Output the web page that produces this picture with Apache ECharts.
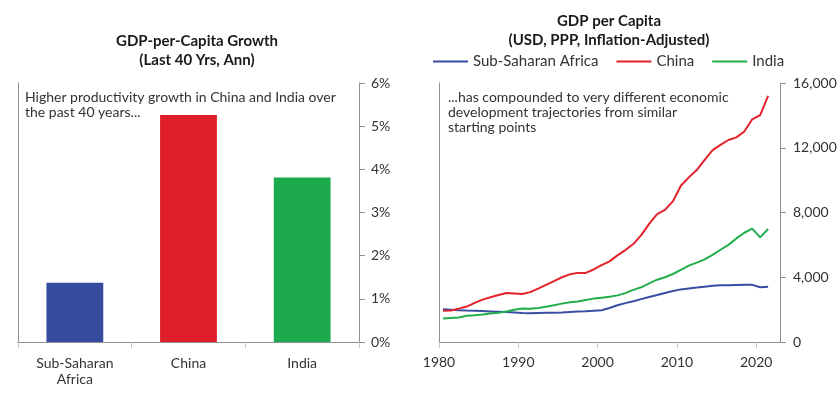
<!DOCTYPE html>
<html><head><meta charset="utf-8">
<script src="https://cdn.jsdelivr.net/npm/echarts@6/dist/echarts.min.js"></script>
<style>html,body{margin:0;padding:0;background:#fff}#c{width:840px;height:397px}</style>
</head><body><div id="c"></div>
<script>
// ---- Left panel data ----
const barCategories = ['Sub-Saharan\nAfrica', 'China', 'India'];
const barValues = [1.37, 5.26, 3.81];
const barColors = ['#374C9F', '#DE1F27', '#1DAA4C'];
const pctTicks = [0, 1, 2, 3, 4, 5, 6];

// ---- Right panel data ----
const years = [1980,1981,1982,1983,1984,1985,1986,1987,1988,1989,
               1990,1991,1992,1993,1994,1995,1996,1997,1998,1999,
               2000,2001,2002,2003,2004,2005,2006,2007,2008,2009,
               2010,2011,2012,2013,2014,2015,2016,2017,2018,2019,
               2020,2021];
const ssa = [2020,1990,1960,1940,1930,1910,1890,1870,1850,1820,
             1790,1780,1790,1800,1810,1830,1860,1880,1900,1930,
             1960,2100,2270,2400,2520,2650,2780,2900,3030,3150,
             3250,3310,3360,3420,3470,3510,3510,3520,3530,3530,
             3380,3420];
const china = [1930,1940,2060,2190,2420,2620,2760,2900,3030,3000,
               2970,3080,3300,3530,3760,4000,4180,4270,4270,4480,
               4750,4980,5350,5680,6050,6600,7300,7900,8160,8700,
               9650,10170,10620,11250,11850,12180,12480,12640,13000,13760,
               14020,15200];
const india = [1450,1490,1510,1620,1650,1700,1760,1800,1880,1990,
               2070,2050,2100,2180,2270,2370,2460,2500,2600,2680,
               2740,2800,2880,3020,3220,3380,3620,3850,4000,4200,
               4450,4720,4900,5100,5380,5700,6000,6400,6750,7000,
               6460,6980];
const yearTicks = [1980, 1990, 2000, 2010, 2020];
const gdpTicks = [0, 4000, 8000, 12000, 16000];
const seriesNames = ['Sub-Saharan Africa', 'China', 'India'];
const lineColors = ['#3A4DA3', '#E3232B', '#22AE4B'];

const FONT = 'Lato, "Open Sans", sans-serif';
const TXT = '#333333';
const DARK_AX = '#8f8f8f';
const LIGHT_AX = '#c8c8c8';

// plotted at mid-year
const toPts = arr => years.map((y, i) => [y + 0.5, arr[i]]);

const chart = echarts.init(document.getElementById('c'), null, {renderer: 'canvas'});
const borderAxis = (extra) => Object.assign({
  show: true, silent: true,
  axisLine: {show: true, lineStyle: {color: DARK_AX, width: 1}},
  axisTick: {show: false}, axisLabel: {show: false}, splitLine: {show: false}
}, extra);

chart.setOption({
  animation: false,
  textStyle: {fontFamily: FONT},
  title: [
    {text: 'GDP-per-Capita Growth\n(Last 40 Yrs, Ann)', left: 197, top: 32, padding: 0,
     textAlign: 'center', textVerticalAlign: 'top',
     textStyle: {fontFamily: FONT, fontSize: 15, fontWeight: 'bold', color: '#1a1a1a', lineHeight: 19}},
    {text: 'GDP per Capita\n(USD, PPP, Inflation-Adjusted)', left: 609, top: 12, padding: 0,
     textAlign: 'center', textVerticalAlign: 'top',
     textStyle: {fontFamily: FONT, fontSize: 15, fontWeight: 'bold', color: '#1a1a1a', lineHeight: 19}},
    {text: 'Higher productivity growth in China and India over\nthe past 40 years...', left: 25, top: 90, padding: 0,
     textVerticalAlign: 'top',
     textStyle: {fontFamily: FONT, fontSize: 14, fontWeight: 'normal', color: TXT, lineHeight: 15}},
    {text: '...has compounded to very different economic\ndevelopment trajectories from similar\nstarting points', left: 448, top: 90, padding: 0,
     textVerticalAlign: 'top',
     textStyle: {fontFamily: FONT, fontSize: 14, fontWeight: 'normal', color: TXT, lineHeight: 15}}
  ],
  legend: {
    data: seriesNames, left: 433, top: 54, padding: 0,
    icon: 'rect', itemWidth: 35, itemHeight: 2, itemGap: 18,
    textStyle: {fontFamily: FONT, fontSize: 15, color: TXT}
  },
  grid: [
    {left: 18, top: 83, width: 341, height: 259, outerBoundsMode: 'none', containLabel: false},
    {left: 439, top: 83, width: 341, height: 259, outerBoundsMode: 'none', containLabel: false}
  ],
  xAxis: [
    {type: 'category', gridIndex: 0, position: 'bottom', data: barCategories,
     axisLine: {lineStyle: {color: LIGHT_AX, width: 1}},
     axisTick: {show: true, length: 6, alignWithLabel: false, lineStyle: {color: LIGHT_AX}},
     axisLabel: {margin: 13, fontFamily: FONT, fontSize: 14, color: TXT, lineHeight: 16, interval: 0},
     splitLine: {show: false}},
    borderAxis({type: 'category', gridIndex: 0, position: 'top', data: barCategories}),
    {type: 'value', gridIndex: 1, position: 'bottom',
     min: yearTicks[0], max: 2023,
     axisLine: {lineStyle: {color: LIGHT_AX, width: 1}},
     axisTick: {show: true, length: 6, lineStyle: {color: LIGHT_AX}, customValues: yearTicks},
     axisLabel: {margin: 13, fontFamily: FONT, fontSize: 14, color: TXT, customValues: yearTicks,
                 formatter: v => String(v)},
     splitLine: {show: false}},
    borderAxis({type: 'value', gridIndex: 1, position: 'top', min: yearTicks[0], max: 2023})
  ],
  yAxis: [
    {type: 'value', gridIndex: 0, position: 'right',
     min: pctTicks[0], max: pctTicks[pctTicks.length - 1], interval: pctTicks[1] - pctTicks[0],
     axisLine: {show: true, lineStyle: {color: DARK_AX, width: 1}},
     axisTick: {show: true, length: 6, lineStyle: {color: DARK_AX}},
     axisLabel: {margin: 12, fontFamily: FONT, fontSize: 14, color: TXT, formatter: '{value}%'},
     splitLine: {show: false}},
    borderAxis({type: 'value', gridIndex: 0, position: 'left', min: 0, max: 6}),
    {type: 'value', gridIndex: 1, position: 'right',
     min: gdpTicks[0], max: gdpTicks[gdpTicks.length - 1], interval: gdpTicks[1] - gdpTicks[0],
     axisLine: {show: true, lineStyle: {color: DARK_AX, width: 1}},
     axisTick: {show: true, length: 6, lineStyle: {color: DARK_AX}},
     axisLabel: {margin: 13, fontFamily: FONT, fontSize: 14, color: TXT,
                 formatter: v => v.toLocaleString('en-US')},
     splitLine: {show: false}},
    borderAxis({type: 'value', gridIndex: 1, position: 'left', min: 0, max: 16000})
  ],
  series: [
    {type: 'bar', xAxisIndex: 0, yAxisIndex: 0, barWidth: '50%',
     data: barValues.map((v, i) => ({value: v, itemStyle: {color: barColors[i]}}))},
    ...[ssa, china, india].map((arr, i) => ({
      name: seriesNames[i], type: 'line', xAxisIndex: 2, yAxisIndex: 2,
      data: toPts(arr), symbol: 'none', smooth: false,
      lineStyle: {color: lineColors[i], width: 2}, itemStyle: {color: lineColors[i]}
    }))
  ]
});
</script></body></html>
